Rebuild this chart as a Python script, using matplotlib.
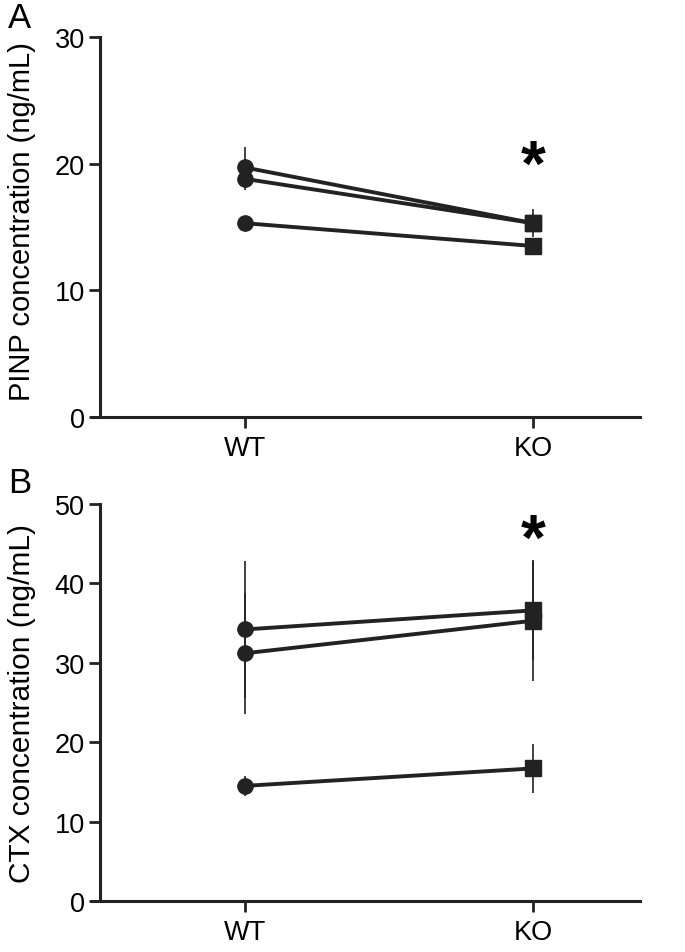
import matplotlib
matplotlib.use("Agg")
import matplotlib.pyplot as plt

plt.rcParams['font.family'] = ['Liberation Sans', 'DejaVu Sans']

groups = ["WT", "KO"]

# Panel A: PINP
pinp_means = [[19.7, 15.3], [18.8, 15.3], [15.3, 13.5]]
pinp_errs = [[1.6, 1.1], [0.9, 0.6], [0.3, 0.3]]

# Panel B: CTX
ctx_means = [[34.2, 36.6], [31.2, 35.3], [14.5, 16.7]]
ctx_errs = [[8.6, 6.2], [7.6, 7.6], [1.3, 3.1]]

W, H = 685, 953
fig = plt.figure(figsize=(W / 100, H / 100), dpi=100)

col = "#222222"


def make_ax(top_px, bottom_px, ymax, yticks):
    left_px, right_px = 92, 640
    ax = fig.add_axes([left_px / W, 1 - bottom_px / H, (right_px - left_px) / W,
                       (bottom_px - top_px) / H])
    ax.set_ylim(0, ymax)
    ax.set_xlim(-0.53, 1.37)
    for s in ["top", "right"]:
        ax.spines[s].set_visible(False)
    ax.spines["left"].set_position(("axes", 8 / (right_px - left_px)))
    for s in ["left", "bottom"]:
        ax.spines[s].set_linewidth(2.2)
        ax.spines[s].set_color(col)
    ax.set_yticks(yticks)
    ax.set_xticks([0, 1])
    ax.set_xticklabels(groups)
    ax.tick_params(axis="both", width=2.0, length=8, labelsize=19.5, color=col)
    ax.tick_params(axis="y", pad=3)
    ax.tick_params(axis="x", pad=5)
    return ax


def draw(ax, means, errs):
    x = [0, 1]
    for m, e in zip(means, errs):
        ax.errorbar(x, m, yerr=e, fmt="none", ecolor=col, elinewidth=1.2,
                    capsize=0, zorder=2)
        ax.plot(x, m, color=col, lw=2.8, zorder=3)
        ax.plot(x[0], m[0], "o", color=col, ms=11, zorder=4)
        ax.plot(x[1], m[1], "s", color=col, ms=11, zorder=4)


axA = make_ax(38, 418, 30, [0, 10, 20, 30])
draw(axA, pinp_means, pinp_errs)
axA.set_ylabel("PINP concentration (ng/mL)", fontsize=21)
axA.yaxis.set_label_coords(-0.103, 0.518)
axA.text(1, 19.7, "*", fontsize=46, fontweight="bold", ha="center", va="center",
         color="black")

axB = make_ax(505, 902, 50, [0, 10, 20, 30, 40, 50])
draw(axB, ctx_means, ctx_errs)
axB.set_ylabel("CTX concentration (ng/mL)", fontsize=21.5)
axB.yaxis.set_label_coords(-0.103, 0.501)
axB.text(1, 45.2, "*", fontsize=46, fontweight="bold", ha="center", va="center",
         color="black")

fig.text(8 / W, 1 - 19 / H, "A", fontsize=25, ha="left", va="center")
fig.text(8 / W, 1 - 484 / H, "B", fontsize=25, ha="left", va="center")

fig.savefig("out.png", dpi=100, facecolor="white")
